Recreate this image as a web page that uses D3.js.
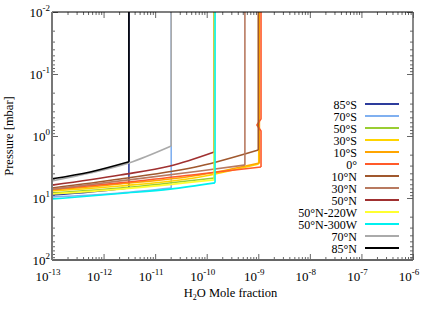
<!DOCTYPE html>
<html>
<head>
<meta charset="utf-8">
<script src="https://cdn.jsdelivr.net/npm/d3@7"></script>
<style>
  body { margin: 0; background: #fff; }
</style>
</head>
<body>
<div id="app"></div>
<script>
const margin = { top: 12, right: 23, bottom: 52, left: 52 },
  W = 436, H = 312,
  width = W - margin.left - margin.right,
  height = H - margin.top - margin.bottom;

// profile names (legend order = drawing order)
const latitudes = ["85°S", "70°S", "50°S", "30°S", "10°S", "0°", "10°N", "30°N", "50°N",
                   "50°N-220W", "50°N-300W", "70°N", "85°N"];
const colors = ["#2d3c9c", "#80b0f0", "#9acd32", "#ffd400", "#ffa500", "#ff5a2a", "#a0582e",
                "#b87a60", "#a03030", "#ffff30", "#00f0f0", "#aaaaaa", "#000000"];

// H2O mole fraction along each profile
const h2o = [
  [1e-13, 5.5e-13, 3.1e-12, 3.1e-12],
  [1e-13, 2.1e-12, 2.05e-11, 2.05e-11],
  [1e-13, 2.1e-12, 1.4e-10, 1.4e-10],
  [1e-13, 2.1e-12, 7.4e-11, 1.02e-9, 1.02e-9],
  [1e-13, 2.1e-12, 7.4e-11, 1.05e-9, 1.05e-9],
  [1e-13, 2.1e-12, 7.4e-11, 1.13e-9, 1.13e-9, 9.4e-10, 1.13e-9, 1.13e-9],
  [1e-13, 2.1e-12, 7.4e-11, 1.0e-9, 1.0e-9],
  [1e-13, 2.1e-12, 7.4e-11, 5.5e-10, 5.5e-10],
  [1e-13, 2.1e-12, 1.95e-11, 1.4e-10, 1.4e-10],
  [1e-13, 2.1e-12, 1.4e-10, 1.4e-10],
  [1e-13, 2.1e-12, 1.95e-11, 1.45e-10, 1.45e-10],
  [1e-13, 5.5e-13, 3.1e-12, 2.05e-11, 2.05e-11],
  [1e-13, 5.5e-13, 3.1e-12, 3.1e-12]
];
// pressure [mbar] at those points
const pressure = [
  [8.95, 8.0, 6.9, 0.01],
  [9.6, 8.3, 6.9, 0.01],
  [8.3, 6.9, 4.75, 0.01],
  [7.7, 6.4, 4.58, 2.83, 0.01],
  [7.43, 5.94, 4.25, 2.72, 0.01],
  [7.2, 5.7, 4.1, 3.16, 0.83, 0.665, 0.53, 0.01],
  [6.9, 4.94, 3.05, 1.68, 0.01],
  [7.2, 5.3, 3.67, 2.94, 0.01],
  [6.2, 4.25, 3.05, 1.81, 0.01],
  [8.6, 7.2, 5.1, 0.01],
  [10.4, 8.45, 7.2, 5.7, 0.01],
  [5.3, 3.96, 2.72, 1.45, 0.01],
  [4.9, 3.8, 2.6, 0.01]
];

const xExp = [-13, -12, -11, -10, -9, -8, -7, -6];
const yExp = [-2, -1, 0, 1, 2];

const serif = "'Liberation Serif', 'Times New Roman', Times, serif";

const x = d3.scaleLog().domain([1e-13, 1e-6]).range([0, width]);
const y = d3.scaleLog().domain([0.01, 100]).range([0, height]);

const svg = d3.select("#app").append("svg")
  .attr("width", W).attr("height", H)
  .attr("font-family", serif);
const g = svg.append("g").attr("transform", `translate(${margin.left},${margin.top})`);

// minor ticks 2..9 in each decade
function minors(exps) {
  const out = [];
  for (let i = 0; i < exps.length - 1; i++)
    for (let k = 2; k <= 9; k++) out.push(k * Math.pow(10, exps[i]));
  return out;
}
const majX = xExp.map(e => Math.pow(10, e)), majY = yExp.map(e => Math.pow(10, e));

function tickAxis(axisFn, scale, vals, size, tr) {
  g.append("g").attr("transform", tr)
    .call(axisFn(scale).tickValues(vals).tickSize(size).tickFormat(""))
    .call(s => s.select(".domain").remove())
    .call(s => s.selectAll("line").attr("stroke", "#666").attr("stroke-width", 1));
}
tickAxis(d3.axisBottom, x, majX, -6, `translate(0,${height})`);
tickAxis(d3.axisBottom, x, minors(xExp), -3, `translate(0,${height})`);
tickAxis(d3.axisTop, x, majX, -6, "translate(0,0)");
tickAxis(d3.axisTop, x, minors(xExp), -3, "translate(0,0)");
tickAxis(d3.axisLeft, y, majY, -6, "translate(0,0)");
tickAxis(d3.axisLeft, y, minors(yExp), -3, "translate(0,0)");
tickAxis(d3.axisRight, y, majY, -6, `translate(${width},0)`);
tickAxis(d3.axisRight, y, minors(yExp), -3, `translate(${width},0)`);

// profiles: smooth part while x increases, then straight segments
const smooth = d3.line().x(d => x(d[0])).y(d => y(d[1])).curve(d3.curveMonotoneX);
const straight = d3.line().x(d => x(d[0])).y(d => y(d[1]));
latitudes.forEach((name, i) => {
  const pts = h2o[i].map((v, j) => [v, pressure[i][j]]);
  let k = 1;
  while (k < pts.length && pts[k][0] > pts[k - 1][0]) k++;
  const head = pts.slice(0, k), tail = pts.slice(k - 1);
  [smooth(head), straight(tail)].forEach(d => {
    g.append("path").attr("d", d)
      .attr("fill", "none")
      .attr("stroke", colors[i])
      .attr("stroke-width", 1.6)
      .attr("stroke-linejoin", "round");
  });
});

// frame
g.append("line").attr("x1", 0).attr("x2", width).attr("y1", 0).attr("y2", 0)
  .attr("stroke", "#000").attr("stroke-width", 1.2);
g.append("line").attr("x1", width).attr("x2", width).attr("y1", 0).attr("y2", height)
  .attr("stroke", "#555").attr("stroke-width", 1.4);
g.append("line").attr("x1", 0).attr("x2", width).attr("y1", height).attr("y2", height)
  .attr("stroke", "#666").attr("stroke-width", 2);
g.append("line").attr("x1", 0).attr("x2", 0).attr("y1", 0).attr("y2", height)
  .attr("stroke", "#777").attr("stroke-width", 2);

// tick labels 10^n
xExp.forEach(e => {
  const t = g.append("text").attr("x", x(Math.pow(10, e)) - 4).attr("y", height + 21)
    .attr("text-anchor", "middle").attr("font-size", 13);
  t.append("tspan").text("10");
  t.append("tspan").attr("dy", -6).attr("font-size", 9).text(e);
});
yExp.forEach(e => {
  const t = g.append("text").attr("x", -2).attr("y", y(Math.pow(10, e)) + 5)
    .attr("text-anchor", "end").attr("font-size", 13);
  t.append("tspan").text("10");
  t.append("tspan").attr("dy", -6).attr("font-size", 9).text(e);
});

// axis titles
const xt = g.append("text").attr("x", width / 2 - 2).attr("y", height + 37)
  .attr("text-anchor", "middle").attr("font-size", 12.5);
xt.append("tspan").text("H");
xt.append("tspan").attr("dy", 3).attr("font-size", 8).text("2");
xt.append("tspan").attr("dy", -3).text("O Mole fraction");

svg.append("text")
  .attr("transform", `translate(13,${margin.top + height / 2}) rotate(-90)`)
  .attr("text-anchor", "middle").attr("font-size", 12.5)
  .text("Pressure [mbar]");

// legend
const leg = svg.append("g").attr("transform", "translate(357,104)");
latitudes.forEach((name, i) => {
  const row = leg.append("g").attr("transform", `translate(0,${i * 12})`);
  row.append("text").attr("x", 0).attr("y", 4.5).attr("text-anchor", "end")
    .attr("font-size", 12).text(name);
  row.append("line").attr("x1", 8).attr("x2", 42).attr("y1", 0).attr("y2", 0)
    .attr("stroke", colors[i]).attr("stroke-width", 1.8);
});
</script>
</body>
</html>
